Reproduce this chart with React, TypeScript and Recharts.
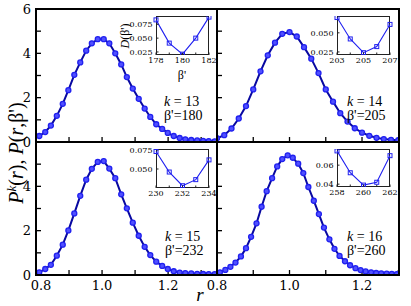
import { LineChart, Line, XAxis, YAxis } from "recharts";

// main panels: r grid and distributions
const rLeft = [0.81, 0.828, 0.845, 0.863, 0.881, 0.898, 0.916, 0.934, 0.952, 0.969, 0.987, 1.005, 1.022, 1.04, 1.058, 1.075, 1.093, 1.111, 1.129, 1.146, 1.164, 1.182, 1.199, 1.217, 1.235, 1.252, 1.27, 1.288, 1.306, 1.323, 1.341];
const rRight = [0.8, 0.82, 0.84, 0.86, 0.88, 0.9, 0.92, 0.94, 0.96, 0.98, 1.0, 1.02, 1.04, 1.06, 1.08, 1.1, 1.12, 1.14, 1.16, 1.18, 1.2, 1.22, 1.24, 1.26, 1.28, 1.3];
const rRight16 = [0.808, 0.823, 0.837, 0.851, 0.866, 0.88, 0.894, 0.909, 0.923, 0.937, 0.952, 0.966, 0.98, 0.995, 1.009, 1.024, 1.038, 1.052, 1.067, 1.081, 1.095, 1.11, 1.124, 1.138, 1.153, 1.167, 1.182, 1.196, 1.21, 1.225, 1.239, 1.253, 1.268, 1.282, 1.296];

const p13 = [0.27, 0.45, 0.74, 1.18, 1.72, 2.34, 3.03, 3.59, 4.12, 4.45, 4.64, 4.64, 4.45, 4.0, 3.5, 2.93, 2.41, 1.95, 1.51, 1.13, 0.8, 0.59, 0.41, 0.27, 0.18, 0.12, 0.09, 0.07, 0.05, 0.04, 0.03];
const p14 = [0.17, 0.31, 0.61, 1.06, 1.62, 2.37, 3.19, 3.91, 4.48, 4.88, 4.96, 4.76, 4.28, 3.76, 3.11, 2.37, 1.82, 1.3, 0.92, 0.62, 0.42, 0.28, 0.19, 0.13, 0.1, 0.08];
const p15 = [0.12, 0.27, 0.46, 0.87, 1.37, 2.01, 2.78, 3.57, 4.3, 4.79, 5.1, 5.14, 4.8, 4.37, 3.64, 3.01, 2.36, 1.77, 1.27, 0.9, 0.6, 0.41, 0.27, 0.17, 0.11, 0.085, 0.07, 0.055, 0.045, 0.04, 0.035];
const p16 = [0.12, 0.23, 0.37, 0.56, 0.84, 1.21, 1.72, 2.33, 3.08, 3.78, 4.37, 4.9, 5.23, 5.4, 5.29, 5.02, 4.6, 3.97, 3.35, 2.75, 2.14, 1.61, 1.18, 0.86, 0.62, 0.44, 0.31, 0.22, 0.16, 0.12, 0.09, 0.07, 0.06, 0.05, 0.04];

const yTicks = [0, 1, 2, 3, 4, 5, 6];
const xTicks = [0.8, 0.9, 1.0, 1.1, 1.2, 1.3];
const xTickLabels = [0.8, 1.0, 1.2];

// insets: D(beta') vs beta'
const beta13 = [178, 179, 180, 181, 182];
const d13 = [0.083, 0.041, 0.021, 0.05, 0.088];
const beta14 = [203, 204, 205, 206, 207];
const d14 = [0.07, 0.042, 0.024, 0.032, 0.061];
const beta15 = [230, 231, 232, 233, 234];
const d15 = [0.073, 0.046, 0.028, 0.036, 0.062];
const beta16 = [258, 259, 260, 261, 262];
const d16 = [0.075, 0.052, 0.039, 0.042, 0.07];

const BLUE = "#2020f0";
const SERIF = "'DejaVu Serif', 'Liberation Serif', serif";
const TIMES = "'Liberation Serif', 'Times New Roman', serif";
const tickFont = { fontSize: 13, fontFamily: SERIF, fill: "#000" };
const insetFont = { fontSize: 8, fontFamily: SERIF, fill: "#000" };

// x tick label; on the left panels the 0.8 label sits right of its tick, clear of the y "0"
const XTick = (props: any) => {
  const { x, y, payload, show, shift } = props;
  const v = payload.value;
  if (!show || !xTickLabels.some((t) => Math.abs(t - v) < 1e-6)) return <g />;
  const dx = Math.abs(v - 0.8) < 1e-6 ? shift : 0;
  return (
    <text x={x + dx} y={y} dy="0.71em" textAnchor="middle" style={{ fontSize: 13, fontFamily: SERIF }} fill="#000">
      {v.toFixed(1)}
    </text>
  );
};

function Panel({ left, top, w, h, r, p, xMax, xLabels, shift, yLabels, yLabelList }: any) {
  const data = r.map((x: number, i: number) => ({ r: x, p: p[i] }));
  return (
    <div style={{ position: "absolute", left: left - 36, top: top - 10 }}>
      <LineChart width={w + 46} height={h + 36} data={data} margin={{ top: 10, right: 10, left: 0, bottom: 0 }}>
        <XAxis
          type="number"
          dataKey="r"
          domain={[0.8, xMax]}
          ticks={xTicks.filter((t) => t <= xMax)}
          interval={0}
          allowDataOverflow
          height={26}
          axisLine={false}
          tickLine={{ stroke: "#000", strokeWidth: 1.3 }}
          tickSize={-5}
          tickMargin={11}
          tick={<XTick show={xLabels} shift={shift} />}
        />
        <YAxis
          type="number"
          domain={[0, 6]}
          ticks={yTicks}
          interval={0}
          allowDataOverflow
          width={36}
          axisLine={false}
          tickLine={{ stroke: "#000", strokeWidth: 1.3 }}
          tickSize={-5}
          tickMargin={10}
          tick={tickFont}
          tickFormatter={(v: number) => (yLabels && yLabelList.includes(v) ? String(v) : "")}
        />
        <Line
          type="linear"
          dataKey="p"
          stroke="#0808a0"
          strokeWidth={2}
          dot={{ r: 2.5, stroke: BLUE, strokeWidth: 1.3, fill: "#5050ff" }}
          isAnimationActive={false}
        />
      </LineChart>
    </div>
  );
}

const Square = (props: any) => {
  const { cx, cy, index } = props;
  return <rect key={index} x={cx - 2} y={cy - 2} width={4} height={4} fill="none" stroke={BLUE} strokeWidth={1} />;
};

function Inset({ left, top, w, h, beta, d, yDomain, yTickList, digits }: any) {
  const data = beta.map((b: number, i: number) => ({ b, d: d[i] }));
  return (
    <>
      <div style={{ position: "absolute", left, top, width: w, height: h, background: "#fff", border: "1.3px solid #222", boxSizing: "border-box" }} />
      <div style={{ position: "absolute", left: left - 30, top: top - 6 }}>
        <LineChart width={w + 42} height={h + 20} data={data} margin={{ top: 6, right: 12, left: 0, bottom: 0 }}>
          <XAxis
            type="number"
            dataKey="b"
            domain={[beta[0], beta[beta.length - 1]]}
            ticks={beta}
            interval={0}
            height={14}
            axisLine={false}
            tickLine={{ stroke: "#222" }}
            tickSize={-2.5}
            tickMargin={5}
            tick={insetFont}
            tickFormatter={(v: number) => ((v - beta[0]) % 2 === 0 ? String(v) : "")}
          />
          <YAxis
            type="number"
            domain={yDomain}
            ticks={yTickList}
            interval={0}
            allowDataOverflow
            width={30}
            axisLine={false}
            tickLine={{ stroke: "#222" }}
            tickSize={-2.5}
            tickMargin={6}
            tick={insetFont}
            tickFormatter={(v: number) => v.toFixed(digits)}
          />
          <Line type="linear" dataKey="d" stroke={BLUE} strokeWidth={1.1} dot={Square} isAnimationActive={false} />
        </LineChart>
      </div>
    </>
  );
}

const noteStyle: any = {
  position: "absolute",
  fontFamily: TIMES,
  fontSize: 14,
  lineHeight: "14px",
  whiteSpace: "nowrap",
  color: "#000",
};

function Note({ left, top, k, b }: any) {
  return (
    <div style={{ ...noteStyle, left, top }}>
      <div><i>k</i> = {k}</div>
      <div>β'={b}</div>
    </div>
  );
}

export default function App() {
  return (
    <div style={{ position: "absolute", left: 0, top: 0, width: 411, height: 306, background: "#fff", overflow: "hidden" }}>
      <Panel left={36} top={9} w={181} h={133} r={rLeft} p={p13} xMax={1.348} xLabels={false} shift={0} yLabels yLabelList={[0, 2, 4, 6]} />
      <Panel left={217} top={9} w={182} h={133} r={rRight} p={p14} xMax={1.302} xLabels={false} shift={0} yLabels={false} yLabelList={[]} />
      <Panel left={36} top={142} w={181} h={133} r={rLeft} p={p15} xMax={1.348} xLabels shift={5} yLabels yLabelList={[0, 2, 4]} />
      <Panel left={217} top={142} w={182} h={133} r={rRight16} p={p16} xMax={1.302} xLabels shift={0} yLabels={false} yLabelList={[]} />

      {/* frame */}
      <div style={{ position: "absolute", left: 35, top: 8, width: 365, height: 268, border: "2px solid #000", boxSizing: "border-box" }} />
      <div style={{ position: "absolute", left: 216.25, top: 9, width: 1.5, height: 266, background: "#000" }} />
      <div style={{ position: "absolute", left: 36, top: 141.25, width: 363, height: 1.5, background: "#000" }} />

      <Inset left={156} top={16} w={53} h={39} beta={beta13} d={d13} yDomain={[0.0195, 0.09]} yTickList={[0.025, 0.05, 0.075]} digits={3} />
      <Inset left={337} top={16} w={53} h={39} beta={beta14} d={d14} yDomain={[0.021, 0.072]} yTickList={[0.025, 0.05]} digits={3} />
      <Inset left={156} top={149} w={53} h={39} beta={beta15} d={d15} yDomain={[0.025, 0.0763]} yTickList={[0.05, 0.075]} digits={3} />
      <Inset left={337} top={149} w={53} h={38} beta={beta16} d={d16} yDomain={[0.037, 0.077]} yTickList={[0.04, 0.06]} digits={2} />

      {/* inset axis titles (top-left inset only) */}
      <div style={{ position: "absolute", left: 125, top: 36, transform: "translate(-50%,-50%) rotate(-90deg)", fontFamily: TIMES, fontSize: 12, whiteSpace: "nowrap" }}>
        <i>D</i>(β')
      </div>
      <div style={{ position: "absolute", left: 182, top: 75, transform: "translate(-50%,-50%)", fontFamily: TIMES, fontSize: 12, lineHeight: "12px", whiteSpace: "nowrap" }}>
        β'
      </div>

      <Note left={164} top={95} k={13} b={180} />
      <Note left={347} top={95} k={14} b={205} />
      <Note left={165} top={230} k={15} b={232} />
      <Note left={347} top={230} k={16} b={260} />

      {/* main axis titles */}
      <div style={{ position: "absolute", left: 16, top: 153, transform: "translate(-50%,-50%) rotate(-90deg)", fontFamily: TIMES, fontSize: 20, whiteSpace: "nowrap" }}>
        <i>P</i>
        <sup style={{ fontSize: 13 }}><i>k</i></sup>(<i>r</i>), <i>P</i>(<i>r</i>,β')
      </div>
      <div style={{ position: "absolute", left: 200, top: 294, transform: "translate(-50%,-50%)", fontFamily: TIMES, fontSize: 19, lineHeight: "19px", fontStyle: "italic" }}>
        r
      </div>
    </div>
  );
}
